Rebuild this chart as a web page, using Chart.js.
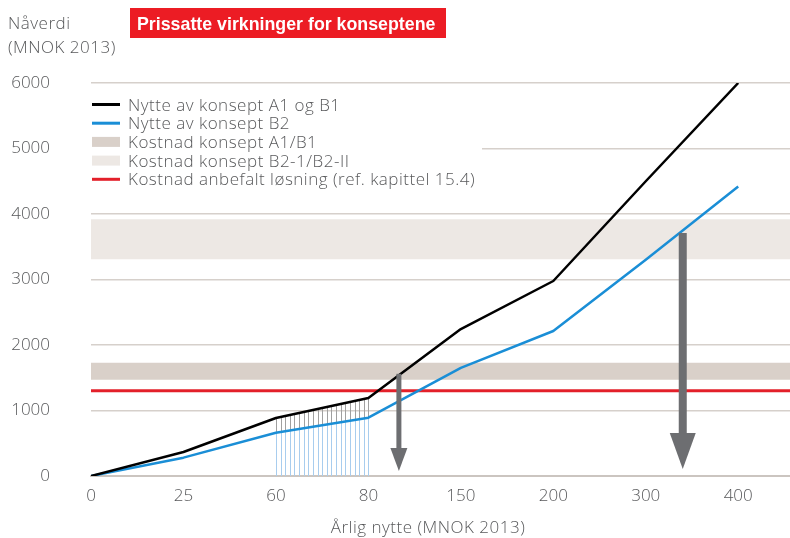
<!DOCTYPE html>
<html><head><meta charset="utf-8">
<script src="https://cdn.jsdelivr.net/npm/chart.js@4.4.0/dist/chart.umd.min.js"></script>
<style>html,body{margin:0;padding:0;background:#fff}#wrap{width:790px;height:538px;position:relative}</style>
</head><body><div id="wrap"><canvas id="c" width="790" height="538"></canvas></div>
<script>
// ---- data ----
const xLabels = ['0', '25', '60', '80', '150', '200', '300', '400'];
const nytteA1B1 = [0, 366, 885, 1190, 2244, 2977, 4500, 6000];
const nytteB2 = [0, 280, 660, 890, 1650, 2214, 3300, 4420];
const kostnadA1B1 = [1470, 1730];
const kostnadB2 = [3310, 3920];
const kostnadAnbefalt = 1300;
const yTicks = [0, 1000, 2000, 3000, 4000, 5000, 6000];
const hatchRange = [2, 3];          // category index range (60 – 80)
const arrowX = [3.33, 6.4];         // position on the category axis
const arrowFrom = [1560, 3710];
const arrowTo = [75, 105];
const legendLabels = ['Nytte av konsept A1 og B1', 'Nytte av konsept B2', 'Kostnad konsept A1/B1', 'Kostnad konsept B2-1/B2-II', 'Kostnad anbefalt løsning (ref. kapittel 15.4)'];
const titleText = 'Prissatte virkninger for konseptene';
const yTitle = ['Nåverdi', '(MNOK 2013)'];
const xTitle = 'Årlig nytte (MNOK 2013)';

// ---- styles ----
const C = {
  black: '#000000', blue: '#1a8ed6', bandA: '#d9d0c9', bandB: '#ede8e4', red: '#e3202a',
  grid: '#d6d0cb', axis: '#cbc5c0', text: '#58595b', arrow: '#6d6e71',
  hatchGray: '#a0a0a0', hatchBlue: '#a8cdee', titleBg: '#ec1c24'
};
const FONT = '"Open Sans", "Liberation Sans", Arial, sans-serif';
const BFONT = '"Liberation Sans", Arial, sans-serif';
const FS = 17;
const xMax = 7.56;
const arrowStyle = [{shaft: 5, head: 17, headLen: 23}, {shaft: 8, head: 26, headLen: 36}];

const pts = arr => arr.map((v, i) => ({x: i, y: v}));
const flat = v => [{x: 0, y: v}, {x: xMax, y: v}];
const interp = (arr, xi) => { const i = Math.min(Math.floor(xi), arr.length - 2); const t = xi - i; return arr[i] + (arr[i + 1] - arr[i]) * t; };

const decor = {
  id: 'decor',
  beforeDatasetsDraw(chart) {
    const {ctx, scales: {x, y}} = chart;
    ctx.save();
    const n = 20;
    for (let k = 0; k <= n; k++) {
      const xi = hatchRange[0] + (hatchRange[1] - hatchRange[0]) * k / n;
      const px = Math.round(x.getPixelForValue(xi)) + 0.5;
      const yb = y.getPixelForValue(interp(nytteA1B1, xi));
      const yl = y.getPixelForValue(interp(nytteB2, xi));
      const y0 = y.getPixelForValue(0);
      ctx.lineWidth = 1;
      ctx.strokeStyle = C.hatchGray;
      ctx.beginPath(); ctx.moveTo(px, yb); ctx.lineTo(px, yl); ctx.stroke();
      ctx.strokeStyle = C.hatchBlue;
      ctx.beginPath(); ctx.moveTo(px, yl); ctx.lineTo(px, y0); ctx.stroke();
    }
    ctx.restore();
  },
  afterDatasetsDraw(chart) {
    const {ctx, scales: {x, y}} = chart;
    ctx.save();
    // arrows
    arrowX.forEach((ax, i) => {
      const s = arrowStyle[i];
      const px = x.getPixelForValue(ax);
      const top = y.getPixelForValue(arrowFrom[i]);
      const bot = y.getPixelForValue(arrowTo[i]);
      ctx.fillStyle = C.arrow;
      ctx.fillRect(px - s.shaft / 2, top, s.shaft, bot - s.headLen - top + 1);
      ctx.beginPath();
      ctx.moveTo(px - s.head / 2, bot - s.headLen);
      ctx.lineTo(px + s.head / 2, bot - s.headLen);
      ctx.lineTo(px, bot);
      ctx.closePath(); ctx.fill();
    });
    // legend
    ctx.fillStyle = '#ffffff';
    ctx.fillRect(x.left, 88, 391, 108);
    const swatches = [
      {t: 'line', c: C.black}, {t: 'line', c: C.blue}, {t: 'box', c: C.bandA}, {t: 'box', c: C.bandB}, {t: 'line', c: C.red}
    ];
    ctx.font = '300 ' + FS + 'px ' + FONT;
    ctx.letterSpacing = '0.5px';
    ctx.textBaseline = 'alphabetic';
    ctx.textAlign = 'left';
    legendLabels.forEach((lab, i) => {
      const cy = 104.5 + i * 18.7;
      const sw = swatches[i];
      if (sw.t === 'line') { ctx.fillStyle = sw.c; ctx.fillRect(92, cy - 1.5, 28, 3); }
      else { ctx.fillStyle = sw.c; ctx.fillRect(92, cy - 5, 28, 10); }
      ctx.fillStyle = C.text;
      ctx.fillText(lab, 128, cy + 6);
    });
    ctx.restore();
  },
  afterDraw(chart) {
    const {ctx} = chart;
    ctx.save();
    ctx.fillStyle = C.titleBg;
    ctx.fillRect(130, 8, 316, 30);
    ctx.fillStyle = '#ffffff';
    ctx.font = 'bold 17.8px ' + BFONT;
    ctx.textBaseline = 'alphabetic';
    ctx.fillText(titleText, 137, 29.5);
    ctx.fillStyle = C.text;
    ctx.font = '300 ' + FS + 'px ' + FONT;
    ctx.letterSpacing = '0.5px';
    ctx.fillText(yTitle[0], 8, 29);
    ctx.fillText(yTitle[1], 8, 53);
    ctx.textAlign = 'center';
    ctx.fillText(xTitle, 428, 533);
    ctx.restore();
  }
};

new Chart(document.getElementById('c'), {
  type: 'line',
  data: {
    datasets: [
      {label: legendLabels[0], data: pts(nytteA1B1), borderColor: C.black, borderWidth: 2.5, pointRadius: 0, fill: false, borderJoinStyle: 'round'},
      {label: legendLabels[1], data: pts(nytteB2), borderColor: C.blue, borderWidth: 2.5, pointRadius: 0, fill: false, borderJoinStyle: 'round'},
      {label: legendLabels[4], data: flat(kostnadAnbefalt), borderColor: C.red, borderWidth: 3, pointRadius: 0, fill: false},
      {label: legendLabels[2], data: flat(kostnadA1B1[1]), borderWidth: 0, borderColor: 'rgba(0,0,0,0)', backgroundColor: C.bandA, pointRadius: 0, fill: {value: kostnadA1B1[0]}},
      {label: legendLabels[3], data: flat(kostnadB2[1]), borderWidth: 0, borderColor: 'rgba(0,0,0,0)', backgroundColor: C.bandB, pointRadius: 0, fill: {value: kostnadB2[0]}}
    ]
  },
  options: {
    responsive: false,
    devicePixelRatio: 1,
    animation: false,
    layout: {padding: {top: 83, left: 0, right: 0, bottom: 0}},
    plugins: {legend: {display: false}, tooltip: {enabled: false}, title: {display: false}},
    scales: {
      x: {
        type: 'linear', min: 0, max: xMax,
        afterBuildTicks: s => { s.ticks = xLabels.map((_, i) => ({value: i})); },
        afterFit: s => { s.height = 62; },
        ticks: {callback: v => xLabels[v] ?? '', color: C.text, font: {family: FONT, size: FS, weight: 300}, padding: 10, autoSkip: false, maxRotation: 0},
        grid: {display: false, drawTicks: false},
        border: {display: true, color: C.axis, width: 2}
      },
      y: {
        min: 0, max: 6000,
        afterBuildTicks: s => { s.ticks = yTicks.map(v => ({value: v})); },
        afterFit: s => { s.width = 91; },
        ticks: {callback: v => String(v), color: C.text, font: {family: FONT, size: FS, weight: 300}, padding: 41},
        grid: {color: C.grid, lineWidth: 1.5, drawTicks: false},
        border: {display: false}
      }
    }
  },
  plugins: [decor]
});
</script></body></html>
